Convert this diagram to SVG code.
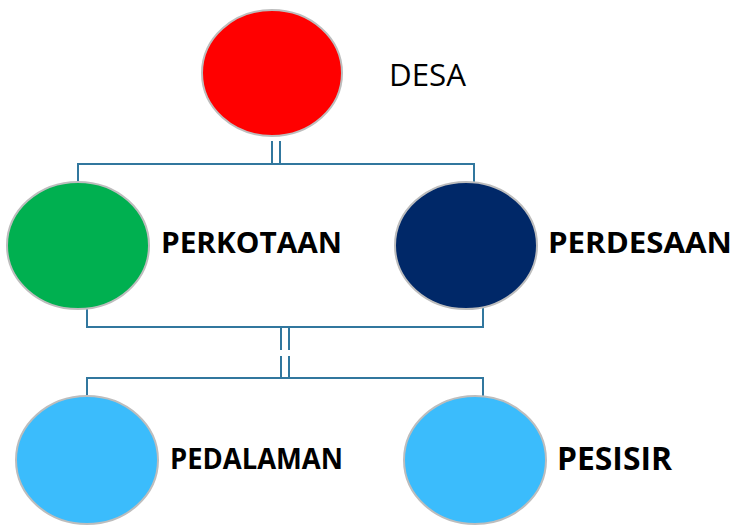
<svg xmlns="http://www.w3.org/2000/svg" width="735" height="526" viewBox="0 0 735 526">
<style>
.node{stroke:#bdbdbd;stroke-width:2}
.conn{fill:none;stroke:#31779e;stroke-width:2}
.lbl{font-family:"Open Sans","Liberation Sans",sans-serif;font-weight:bold;fill:#000}
.reg{font-family:"Open Sans","Liberation Sans",sans-serif;fill:#000}
</style>
<rect width="735" height="526" fill="#fff"/>
<g id="connectors">
<path class="conn" d="M272 141V164M280 141V164M78 182V164H474V182"/>
<path class="conn" d="M87 308V327H483V308M281 327V350M289 327V350M281 356V378M289 356V378M87 396V378H483V396"/>
</g>
<g id="desa">
<ellipse class="node" cx="272" cy="73" rx="70" ry="63" fill="#ff0000"/>
<text class="reg" x="389" y="86" font-size="31" textLength="77" lengthAdjust="spacingAndGlyphs">DESA</text>
</g>
<g id="perkotaan">
<ellipse class="node" cx="78" cy="245.5" rx="71" ry="63.5" fill="#00b050"/>
<text class="lbl" x="161" y="253" font-size="28" textLength="181" lengthAdjust="spacingAndGlyphs">PERKOTAAN</text>
</g>
<g id="perdesaan">
<ellipse class="node" cx="466" cy="245.5" rx="71" ry="63.5" fill="#002868"/>
<text class="lbl" x="548" y="253" font-size="28" textLength="184" lengthAdjust="spacingAndGlyphs">PERDESAAN</text>
</g>
<g id="pedalaman">
<ellipse class="node" cx="87" cy="460" rx="71" ry="64" fill="#3bbcfc"/>
<text class="lbl" x="170" y="469" font-size="29" textLength="173" lengthAdjust="spacingAndGlyphs">PEDALAMAN</text>
</g>
<g id="pesisir">
<ellipse class="node" cx="475" cy="460" rx="71" ry="64" fill="#3bbcfc"/>
<text class="lbl" x="557" y="470" font-size="32" textLength="115" lengthAdjust="spacingAndGlyphs">PESISIR</text>
</g>
</svg>
